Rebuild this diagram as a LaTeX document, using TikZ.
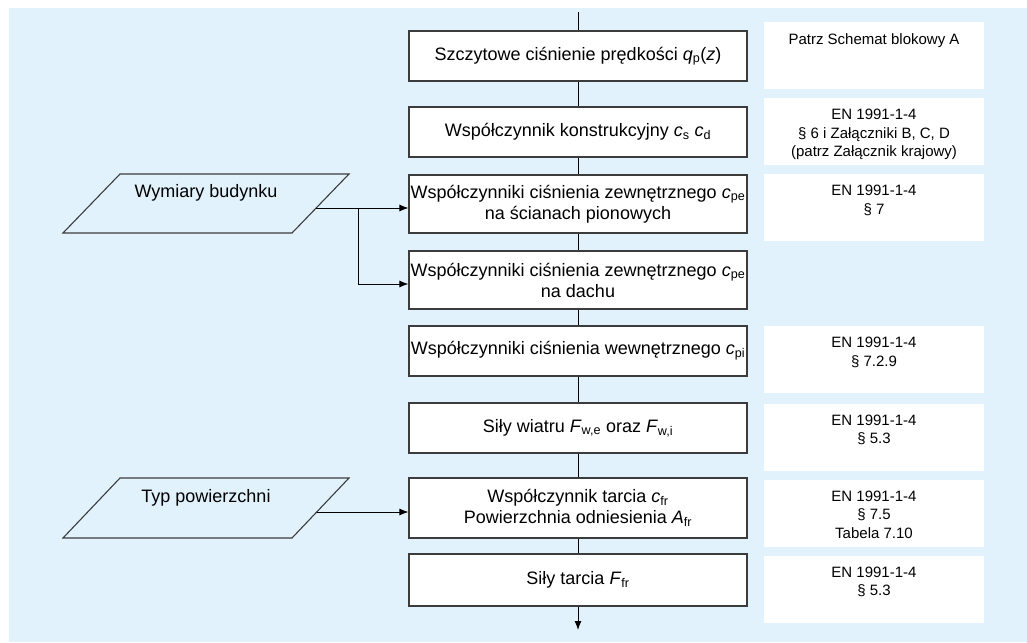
\documentclass[tikz,border=0pt]{standalone}
\usepackage{fontspec}
\setmainfont{Liberation Sans}
\usetikzlibrary{arrows.meta,calc}
\definecolor{bgblue}{RGB}{225,242,253}
\definecolor{boxline}{RGB}{60,60,60}
\newcommand{\mainsz}{\fontsize{18}{21}\selectfont}
\newcommand{\refsz}{\fontsize{15}{18.3}\selectfont}
\begin{document}
\begin{tikzpicture}[x=1pt,y=-1pt,
  stepbox/.style={draw=boxline,line width=1.1pt,fill=white,minimum width=338pt,inner sep=0pt,align=center,font=\mainsz},
  refbox/.style={fill=white,draw=none,minimum width=220pt,minimum height=67pt,inner sep=0pt},
  reftext/.style={anchor=north,inner sep=0pt,align=center,font=\refsz},
  inbox/.style={draw=boxline,line width=1.1pt,fill=bgblue},
  intext/.style={inner sep=0pt,font=\mainsz},
  conn/.style={draw=black,line width=1pt},
  arr/.style={conn,-{Latex[length=9pt,width=7pt]}}
]
\useasboundingbox (0,0) rectangle (1027,642);
\fill[bgblue] (9,8) rectangle (1027,642);

% centre boxes
\node[stepbox,minimum height=50pt] (b1) at (578,56) {Szczytowe ciśnienie prędkości \textit{q}\textsubscript{p}(\textit{z})};
\node[stepbox,minimum height=50pt] (b2) at (578,132) {Współczynnik konstrukcyjny \textit{c}\textsubscript{s} \textit{c}\textsubscript{d}};
\node[stepbox,minimum height=58pt] (b3) at (578,204) {Współczynniki ciśnienia zewnętrznego \textit{c}\textsubscript{pe}\\na ścianach pionowych};
\node[stepbox,minimum height=58pt] (b4) at (578,280) {Współczynniki ciśnienia zewnętrznego \textit{c}\textsubscript{pe}\\na dachu};
\node[stepbox,minimum height=50pt] (b5) at (578,351) {Współczynniki ciśnienia wewnętrznego \textit{c}\textsubscript{pi}};
\node[stepbox,minimum height=50pt] (b6) at (578,428) {Siły wiatru \textit{F}\textsubscript{w,e} oraz \textit{F}\textsubscript{w,i}};
\node[stepbox,minimum height=60pt] (b7) at (578,508) {Współczynnik tarcia \textit{c}\textsubscript{fr}\\Powierzchnia odniesienia \textit{A}\textsubscript{fr}};
\node[stepbox,minimum height=52pt] (b8) at (578,580) {Siły tarcia \textit{F}\textsubscript{fr}};

% vertical connectors
\coordinate (top) at (578,12);
\coordinate (bot) at (578,630);
\draw[conn] (top) -- (b1.north);
\draw[conn] (b1.south) -- (b2.north);
\draw[conn] (b2.south) -- (b3.north);
\draw[conn] (b3.south) -- (b4.north);
\draw[conn] (b4.south) -- (b5.north);
\draw[conn] (b5.south) -- (b6.north);
\draw[conn] (b6.south) -- (b7.north);
\draw[conn] (b7.south) -- (b8.north);
\draw[arr] (b8.south) -- (bot);

% reference boxes
\node[refbox] (rA) at (874,55.5) {};
\node[reftext] (tA) at ([yshift=-11.5pt]rA.north) {Patrz Schemat blokowy A};
\node[refbox] (rB) at (874,131.5) {};
\node[reftext] (tB) at ([yshift=-11.5pt]rB.north) {EN 1991-1-4\\§ 6 i Załączniki B, C, D\\(patrz Załącznik krajowy)};
\node[refbox] (rC) at (874,207.5) {};
\node[reftext] (tC) at ([yshift=-11.5pt]rC.north) {EN 1991-1-4\\§ 7};
\node[refbox] (rD) at (874,359.5) {};
\node[reftext] (tD) at ([yshift=-11.5pt]rD.north) {EN 1991-1-4\\§ 7.2.9};
\node[refbox] (rE) at (874,437) {};
\node[reftext] (tE) at ([yshift=-11.5pt]rE.north) {EN 1991-1-4\\§ 5.3};
\node[refbox] (rF) at (874,513) {};
\node[reftext] (tF) at ([yshift=-11.5pt]rF.north) {EN 1991-1-4\\§ 7.5\\Tabela 7.10};
\node[refbox] (rG) at (874,589) {};
\node[reftext] (tG) at ([yshift=-11.5pt]rG.north) {EN 1991-1-4\\§ 5.3};

% input parallelograms
\draw[inbox] (120,174) -- (349,174) -- (292,233) -- (63,233) -- cycle;
\node[intext] (p1) at (206,193) {Wymiary budynku};
\draw[inbox] (120,478) -- (349,478) -- (292,538) -- (63,538) -- cycle;
\node[intext] (p2) at (206,498) {Typ powierzchni};

\coordinate (p1out) at (316.2,208);
\coordinate (br1) at (358,208);
\coordinate (p2out) at (316.7,512);
\draw[arr] (p1out) -- ([yshift=-4pt]b3.west);
\draw[arr] (br1) |- ([yshift=-4pt]b4.west);
\draw[arr] (p2out) -- ([yshift=-4pt]b7.west);
\end{tikzpicture}
\end{document}
